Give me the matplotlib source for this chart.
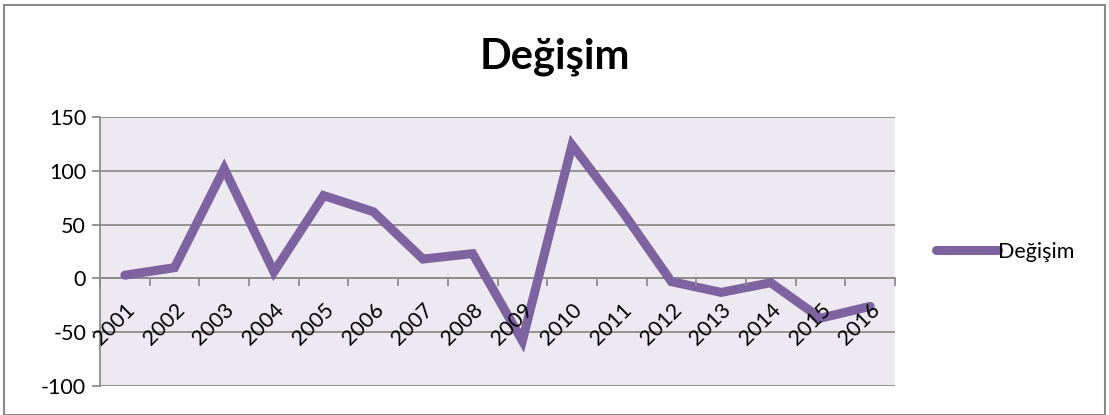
import matplotlib
matplotlib.use("Agg")
import matplotlib.pyplot as plt
from matplotlib.patches import Rectangle
from matplotlib.lines import Line2D

years = ["2001", "2002", "2003", "2004", "2005", "2006", "2007", "2008",
         "2009", "2010", "2011", "2012", "2013", "2014", "2015", "2016"]
degisim = [3, 10, 102, 6, 77, 62, 18, 23, -58, 124, 63, -3, -13, -4, -37, -26]
yticks = [-100, -50, 0, 50, 100, 150]

purple = "#7F63A1"
grid_gray = "#8C8C8C"
plt.rcParams["font.family"] = ["Lato", "DejaVu Sans"]

fig = plt.figure(figsize=(11.09, 4.15), dpi=100)
fig.patch.set_facecolor("white")
fig.patches.append(Rectangle((4 / 1109, 0), 1101 / 1109, 1 - 5 / 415, transform=fig.transFigure,
                             fill=False, edgecolor="#8A8A8A", linewidth=1.5))

ax = fig.add_axes([100 / 1109, 1 - 386 / 415, 795 / 1109, 269 / 415])
ax.set_facecolor("#ECEAF0")

# spine position first: moving it resets the tick settings
ax.spines["bottom"].set_position(("data", 0))
ax.spines["bottom"].set_color(grid_gray)
ax.spines["bottom"].set_linewidth(1.3)
ax.spines["left"].set_color(grid_gray)
ax.spines["left"].set_linewidth(1.3)
ax.spines["top"].set_visible(False)
ax.spines["right"].set_visible(False)

x = list(range(len(years)))
ax.plot(x, degisim, color=purple, linewidth=6.5, solid_capstyle="round",
        solid_joinstyle="miter", label="Değişim", zorder=3)

ax.set_xlim(-0.5, len(years) - 0.5)
ax.set_ylim(-100, 150)
ax.set_yticks(yticks)
ax.set_yticklabels([str(v) for v in yticks], fontsize=15.5)
ax.yaxis.grid(True, color=grid_gray, linewidth=1.3)
ax.yaxis.set_zorder(0.5)
ax.xaxis.set_zorder(4)  # year labels sit on top of the line, like in Excel

ax.set_xticks(x)
ax.set_xticklabels(years, rotation=45, ha="right", rotation_mode="anchor", fontsize=15.5)
ax.set_xticks([i - 0.5 for i in range(len(years) + 1)], minor=True)
ax.tick_params(axis="x", which="major", length=0, pad=15)
ax.tick_params(axis="x", which="minor", length=6, color=grid_gray, width=1.3, direction="out")
ax.tick_params(axis="y", length=6, color=grid_gray, width=1.3, pad=4)

fig.text(0.5, 1 - 57 / 415, "Değişim", ha="center", va="center", fontsize=30, fontweight="bold")

handle = Line2D([], [], color=purple, linewidth=6.5, solid_capstyle="round")
fig.legend([handle], ["Değişim"], loc="center left", bbox_to_anchor=(925 / 1109, 1 - 252 / 415),
           frameon=False, fontsize=15.5, handlelength=2.9, handletextpad=0.0, borderpad=0)

fig.savefig("out.png", dpi=100)
